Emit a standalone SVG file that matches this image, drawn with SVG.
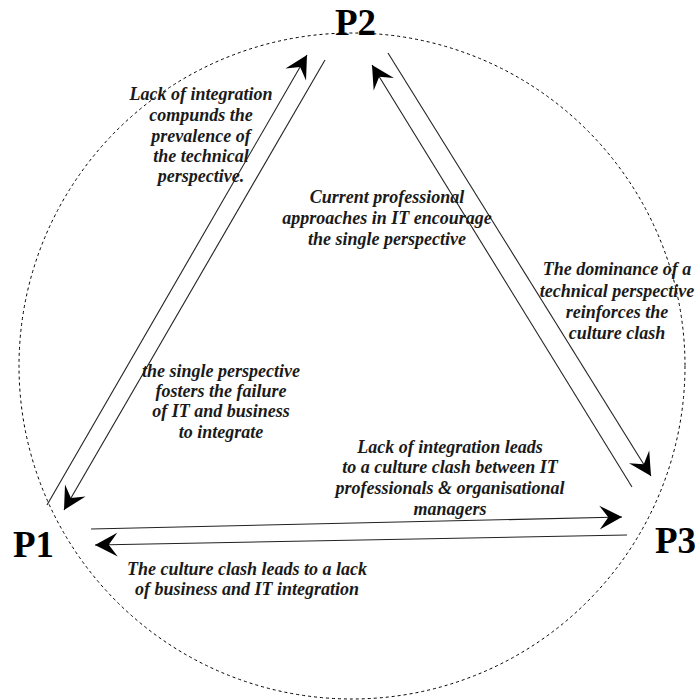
<svg xmlns="http://www.w3.org/2000/svg" width="695" height="700" viewBox="0 0 695 700">
<style>
.lbl{font-family:"Liberation Serif","Times New Roman",serif;font-style:italic;font-weight:bold;font-size:18px;fill:#1a1a1a;text-anchor:middle}
.node{font-family:"Liberation Serif","Times New Roman",serif;font-weight:bold;font-size:37px;fill:#000}
.con{stroke:#222;stroke-width:1.1;fill:none}
</style>
<defs>
<marker id="ah" markerUnits="userSpaceOnUse" markerWidth="30" markerHeight="30" viewBox="-21 -12 23 24" refX="0" refY="0" orient="auto">
<path d="M0,0 L-18,-9.5 L-11,0 L-18,9.5 Z" fill="#000"/>
</marker>
</defs>
<rect width="695" height="700" fill="#fff"/>
<circle cx="352" cy="366" r="333" fill="none" stroke="#000" stroke-width="1" stroke-dasharray="3,3"/>
<g id="P1"><text class="node" x="13" y="557">P1</text></g>
<g id="P2"><text class="node" x="335" y="35">P2</text></g>
<g id="P3"><text class="node" x="655" y="553">P3</text></g>
<g id="connectors">
<line class="con" x1="47" y1="505" x2="307" y2="55" marker-end="url(#ah)"/>
<line class="con" x1="325" y1="60" x2="64" y2="510" marker-end="url(#ah)"/>
<line class="con" x1="632" y1="487" x2="372" y2="65" marker-end="url(#ah)"/>
<line class="con" x1="388" y1="53" x2="651" y2="476" marker-end="url(#ah)"/>
<line class="con" x1="91" y1="529" x2="622" y2="517" marker-end="url(#ah)"/>
<line class="con" x1="627" y1="535" x2="95" y2="545" marker-end="url(#ah)"/>
</g>
<g id="labels">
<text class="lbl" x="201" y="100">Lack of integration</text>
<text class="lbl" x="201" y="121">compunds the</text>
<text class="lbl" x="201" y="142">prevalence of</text>
<text class="lbl" x="201" y="162">the technical</text>
<text class="lbl" x="201" y="182">perspective.</text>
<text class="lbl" x="387" y="203">Current professional</text>
<text class="lbl" x="387" y="224">approaches in IT encourage</text>
<text class="lbl" x="387" y="245">the single perspective</text>
<text class="lbl" x="617" y="275">The dominance of a</text>
<text class="lbl" x="617" y="297">technical perspective</text>
<text class="lbl" x="617" y="318">reinforces the</text>
<text class="lbl" x="617" y="339">culture clash</text>
<text class="lbl" x="221" y="377">the single perspective</text>
<text class="lbl" x="221" y="397">fosters the failure</text>
<text class="lbl" x="221" y="417">of IT and business</text>
<text class="lbl" x="221" y="438">to integrate</text>
<text class="lbl" x="450" y="453">Lack of integration leads</text>
<text class="lbl" x="450" y="473">to a culture clash between IT</text>
<text class="lbl" x="450" y="494">professionals &amp; organisational</text>
<text class="lbl" x="450" y="515">managers</text>
<text class="lbl" x="247" y="575">The culture clash leads to a lack</text>
<text class="lbl" x="247" y="595">of business and IT integration</text>
</g>
</svg>
